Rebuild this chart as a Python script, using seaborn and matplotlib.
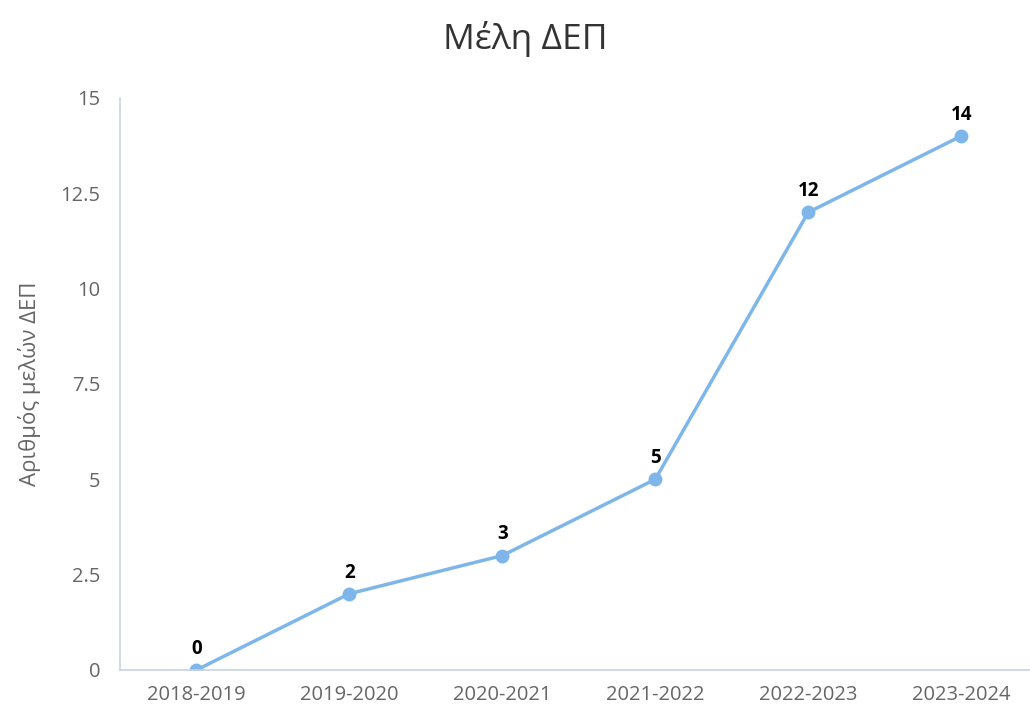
import matplotlib
matplotlib.use("Agg")
import matplotlib.pyplot as plt
import seaborn as sns
import pandas as pd

years = ["2018-2019", "2019-2020", "2020-2021", "2021-2022", "2022-2023", "2023-2024"]
members = [0, 2, 3, 5, 12, 14]
y_ticks = [0, 2.5, 5, 7.5, 10, 12.5, 15]
y_tick_labels = ["0", "2.5", "5", "7.5", "10", "12.5", "15"]

sns.set_style("white")
plt.rcParams["font.family"] = ["Open Sans", "DejaVu Sans"]

df = pd.DataFrame({"year": years, "members": members})

fig = plt.figure(figsize=(10.3, 7.08), dpi=100)
ax = fig.add_axes([0.1165, 0.0537, 0.8835, 0.808])

line_color = "#7eb6ea"
sns.lineplot(data=df, x="year", y="members", ax=ax, color=line_color,
             linewidth=2.5, marker="o", markersize=10, markeredgewidth=0,
             sort=False)

# value labels above each point
for i, v in enumerate(members):
    ax.annotate(str(v), (i, v), xytext=(0, 8), textcoords="offset points",
                ha="center", va="bottom", fontsize=13.5, fontweight="bold",
                color="black")

ax.set_xlim(-0.5, 5.45)
ax.set_ylim(0, 15)
ax.set_yticks(y_ticks)
ax.set_yticklabels(y_tick_labels)
ax.tick_params(axis="both", length=0, labelsize=14.5, labelcolor="#666666")
ax.tick_params(axis="x", pad=11)
ax.tick_params(axis="y", pad=14)

for side in ["top", "right"]:
    ax.spines[side].set_visible(False)
for side in ["left", "bottom"]:
    ax.spines[side].set_color("#c8d4e3")
    ax.spines[side].set_linewidth(1.2)

ax.set_xlabel("")
ax.set_ylabel("Αριθμός μελών ΔΕΠ", fontsize=16, color="#666666", labelpad=14)

fig.text(0.51, 0.945, "Μέλη ΔΕΠ", ha="center", va="center", fontsize=25.5,
         color="#333333")

fig.savefig("out.png", dpi=100)
